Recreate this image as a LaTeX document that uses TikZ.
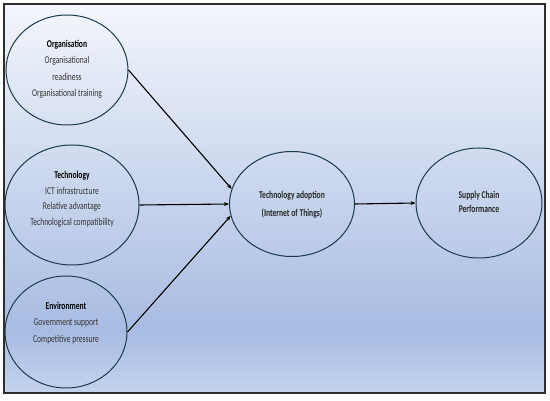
\documentclass[tikz,border=0pt]{standalone}
\usepackage{fontspec}
\setmainfont[FakeStretch=0.73]{Carlito}
\usetikzlibrary{shapes.geometric,arrows.meta}

\definecolor{ringcol}{HTML}{1B3A4B}
\definecolor{itemcol}{HTML}{333333}
\definecolor{framecol}{HTML}{2E2E2E}
\definecolor{bgtop}{RGB}{243,246,252}
\definecolor{bgdeep}{RGB}{168,188,226}
\definecolor{bgbottom}{RGB}{196,211,238}

\pgfdeclareverticalshading{panelshade}{100bp}{%
  color(0bp)=(bgbottom); color(25bp)=(bgbottom); color(33bp)=(bgdeep);
  color(75bp)=(bgtop); color(100bp)=(bgtop)}

\tikzset{
  factor/.style={ellipse,draw=ringcol,line width=1pt,inner sep=0pt},
  factortext/.style={align=center,text=itemcol,font=\fontsize{10.4}{16.5}\selectfont},
  link/.style={-{Stealth[length=5pt,width=4pt]},line width=1.1pt,black}
}

\begin{document}
\begin{tikzpicture}[x=1pt,y=-1pt]
        \useasboundingbox (0,0) rectangle (550,401);
        \shade[shading=panelshade] (4,4) rectangle (545,393);
        \draw[framecol,line width=1.5pt] (4,4) rectangle (545,393);

        \draw (67,70) node (org) [factor,minimum width=122pt,minimum height=110pt] {};
        \draw (72,205) node (tech) [factor,minimum width=134pt,minimum height=120pt] {};
        \draw (66,332) node (env) [factor,minimum width=122pt,minimum height=112pt] {};
        \draw (292,204) node (ta) [factor,minimum width=125pt,minimum height=105pt] {};
        \draw (479,203) node (sc) [factor,minimum width=126pt,minimum height=110pt] {};

        \draw (67,69) node (orgtext) [factortext] {\textcolor{black}{\textbf{Organisation}}\\Organisational\\readiness\\Organisational training};
        \draw (72,199) node (techtext) [factortext,font=\fontsize{10.4}{15.5}\selectfont] {\textcolor{black}{\textbf{Technology}}\\ICT infrastructure\\Relative advantage\\Technological compatibility};
        \draw (66,323) node (envtext) [factortext] {\textcolor{black}{\textbf{Environment}}\\Government support\\Competitive pressure};
        \draw (292,205) node (tatext) [factortext,font=\bfseries\fontsize{10.4}{18}\selectfont,text=black!85] {Technology adoption\\(Internet of Things)};
        \draw (479,202) node (sctext) [factortext,font=\bfseries\fontsize{10.4}{14}\selectfont,text=black!85] {Supply Chain\\Performance};

        \draw [link] (org.east) to (ta.166);
        \draw [link] (tech.east) to (ta.west);
        \draw [link] (env.east) to (ta.191);
        \draw [link] (ta.east) to (sc.west);
\end{tikzpicture}
\end{document}
